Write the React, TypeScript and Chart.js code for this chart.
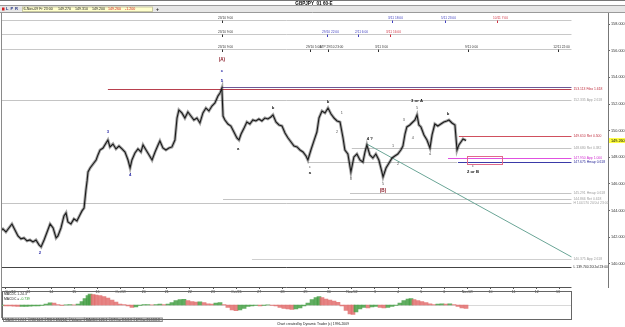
import React, { useEffect, useRef } from "react";
import { Chart, registerables } from "chart.js";

Chart.register(...registerables);

const FONT = "'Liberation Sans', 'DejaVu Sans', sans-serif";

const dayLabels = ["Oct/12","13","14","15","16","Oct/19","20","21","22","23","Oct/26","27","28","29","30","Nov/02","3","4","5","6","Nov/09","10","11","12","13"];
const yTicks = [140, 142, 144, 146, 148, 150, 152, 154, 156, 158];

// hourly GBPJPY path (trading days from Oct 12)
const priceTime = [-0.22,-0.09,0.04,0.17,0.30,0.43,0.56,0.69,0.82,0.95,1.08,1.21,1.34,1.47,1.56,1.69,1.82,1.95,2.08,2.21,2.29,2.42,2.55,2.64,2.72,2.85,2.98,3.11,3.24,3.33,3.42,3.50,3.55,3.59,3.68,3.81,3.94,4.02,4.11,4.24,4.37,4.45,4.54,4.67,4.80,4.93,5.06,5.19,5.32,5.41,5.49,5.62,5.75,5.88,5.97,6.10,6.23,6.36,6.49,6.62,6.70,6.83,6.96,7.09,7.22,7.35,7.44,7.52,7.65,7.78,7.91,8.04,8.17,8.30,8.43,8.56,8.69,8.82,8.95,9.08,9.21,9.30,9.38,9.43,9.51,9.64,9.77,9.90,10.03,10.12,10.21,10.34,10.46,10.59,10.72,10.85,10.98,11.11,11.24,11.37,11.50,11.59,11.72,11.85,11.98,12.11,12.24,12.37,12.50,12.63,12.76,12.89,13.02,13.10,13.23,13.36,13.49,13.58,13.71,13.84,13.97,14.10,14.23,14.36,14.49,14.62,14.70,14.83,14.96,15.09,15.22,15.35,15.48,15.57,15.65,15.78,15.91,16.04,16.17,16.30,16.35,16.48,16.61,16.74,16.86,16.99,17.12,17.21,17.30,17.38,17.51,17.64,17.73,17.82,17.90,17.99,18.12,18.25,18.38,18.47,18.59,18.72,18.85,18.98,19.11,19.20,19.33,19.46,19.55,19.63,19.72,19.81,19.94];
const priceClose = [142.48,142.63,142.40,142.70,143.00,142.55,142.10,141.88,141.95,141.73,141.80,141.65,141.80,141.43,141.28,141.80,142.40,143.00,142.70,141.95,142.10,142.70,143.60,143.83,143.15,143.00,143.38,143.23,143.68,143.98,144.20,145.55,146.23,146.90,147.20,147.50,147.80,148.18,148.55,148.70,149.08,149.30,148.78,149.00,148.63,148.85,148.63,148.40,147.80,147.20,147.80,148.33,148.63,148.40,148.93,148.55,148.18,147.80,148.40,148.93,149.23,148.70,148.55,148.70,148.78,149.30,150.95,151.55,151.33,150.95,151.40,151.10,150.80,150.95,150.58,151.33,151.70,151.48,151.85,152.08,152.60,152.83,153.20,151.10,150.80,150.50,150.35,149.90,149.45,149.30,149.75,150.20,150.65,150.50,150.80,150.73,150.88,150.73,150.95,150.88,151.03,151.18,150.65,150.43,150.35,149.83,149.45,149.15,148.85,148.78,148.55,148.40,148.10,147.80,148.55,149.23,149.90,150.95,151.48,151.33,151.70,151.25,150.95,150.73,150.65,149.45,148.55,148.25,146.90,148.03,148.25,147.80,147.65,148.40,148.93,148.18,147.95,148.25,147.80,146.90,146.53,147.20,147.58,147.95,148.10,148.25,148.55,148.85,149.75,150.28,150.43,150.65,150.80,151.18,150.43,150.28,149.68,149.30,148.70,149.68,150.50,150.35,150.50,150.65,150.73,150.80,150.58,150.43,148.55,148.93,149.15,149.38,149.26];

// MACD histogram
const macdTime = [-0.13,0.04,0.22,0.39,0.56,0.74,0.91,1.08,1.25,1.43,1.60,1.77,1.95,2.12,2.29,2.46,2.64,2.81,2.98,3.16,3.33,3.46,3.59,3.68,3.81,3.94,4.11,4.28,4.45,4.63,4.80,4.97,5.15,5.32,5.49,5.66,5.84,6.01,6.18,6.36,6.53,6.70,6.88,7.05,7.22,7.39,7.57,7.74,7.91,8.09,8.26,8.43,8.61,8.78,8.95,9.12,9.30,9.47,9.64,9.82,9.99,10.16,10.34,10.51,10.68,10.85,11.03,11.20,11.37,11.55,11.72,11.89,12.06,12.24,12.41,12.58,12.76,12.93,13.10,13.28,13.45,13.58,13.71,13.88,14.05,14.23,14.40,14.57,14.75,14.92,15.05,15.18,15.35,15.52,15.70,15.87,16.04,16.22,16.39,16.56,16.74,16.91,17.08,17.25,17.43,17.56,17.69,17.86,18.03,18.21,18.38,18.55,18.72,18.90,19.07,19.24,19.42,19.59,19.76,19.94];
const macdValue = [-0.05,-0.08,-0.10,-0.12,-0.15,-0.15,-0.13,-0.12,-0.10,-0.08,-0.03,0.10,0.22,0.20,0.05,-0.05,0.02,0.05,0.02,0.10,0.35,0.65,0.95,1.10,1.05,1.00,0.95,0.85,0.70,0.50,0.30,0.10,0.05,-0.10,-0.23,-0.20,-0.05,0.03,0.05,0.02,0.05,0.08,0.05,0.10,0.25,0.45,0.55,0.57,0.45,0.35,0.30,0.32,0.25,0.12,0.10,0.20,0.23,0.05,-0.25,-0.50,-0.57,-0.50,-0.35,-0.15,-0.08,-0.05,-0.10,-0.05,0.02,-0.05,-0.10,-0.25,-0.35,-0.40,-0.43,-0.40,-0.30,-0.10,0.20,0.55,0.75,0.83,0.75,0.60,0.50,0.40,0.27,-0.10,-0.55,-0.90,-0.93,-0.70,-0.40,-0.25,-0.30,-0.20,-0.15,-0.25,-0.30,-0.25,-0.15,-0.05,0.20,0.45,0.60,0.63,0.55,0.45,0.35,0.25,0.12,0.05,0.08,0.12,0.10,0.12,0.05,-0.15,-0.30,-0.33];

// horizontal price levels
const levelValue = [153.25, 153.09, 152.30, 149.60, 148.68, 147.65, 147.95, 147.675, 145.29, 144.866, 144.57, 140.375, 139.74];
const levelStart = [9.38, 4.45, -0.22, 19.63, 15.0, 13.1, 19.16, 19.59, 14.92, 9.43, -0.22, 10.68, -0.22];
const levelEnd = [24.5, 24.5, 24.5, 24.5, 24.5, 19.55, 24.5, 24.5, 24.5, 24.5, 24.5, 24.5, 24.5];
const levelText = ["", "153.113 Fibo 1.618", "152.335 App 2.618", "149.610 Ret 0.500", "148.680 Ret 0.382", "", "147.950 App 1.000", "147.675 Hmap 0.618", "145.291 Hmap 0.618", "144.866 Ret 0.618", "H 144.570 20/Jul 23:00", "140.375 App 2.618", "L 139.740 20/Jul 23:00"];
const levelColor = ["#6c5a96", "#b8404e", "#c4c4c4", "#d0505e", "#c4c4c4", "#c4c4c4", "#e050e0", "#3a3aa8", "#c4c4c4", "#c4c4c4", "#c4c4c4", "#cfcfcf", "#444444"];
const levelTextColor = ["", "#c03040", "#a0a0a0", "#c03040", "#a0a0a0", "", "#d030d0", "#2a2a9a", "#a0a0a0", "#a0a0a0", "#a0a0a0", "#a0a0a0", "#222222"];

// target zone and trend line
const zoneTime = [19.98, 21.49];
const zoneValue = [148.1, 147.5];
const trendTime = [15.65, 24.5];
const trendValue = [149.0, 140.53];

// wave labels
const waveText = ["2","3","4","(A)","c","5","a","b","c","a","b","1","2","3","4 ?","5","(B)","1","2","3","4","5","3 or A","a","b","c","2 or B"];
const waveTime = [1.51,4.45,5.41,9.38,9.38,9.38,10.08,11.59,13.19,13.19,13.97,14.57,14.36,14.96,15.78,16.35,16.35,16.78,17.0,17.25,17.64,17.82,17.82,18.38,19.16,20.24,20.24];
const waveValue = [140.8,149.92,146.68,155.3,154.48,153.73,148.63,151.7,147.28,146.83,152.15,151.33,149.9,146.38,149.38,146.0,145.48,148.85,147.5,150.8,149.45,151.7,152.23,148.25,151.25,147.35,146.9];
const waveStyle = ["blue","blue","blue","red","blue","blue","bold","bold","gray","bold","bold","gray","gray","gray","bold","gray","red","gray","gray","gray","gray","gray","bold","gray","bold","gray","bold"];

// time markers (rows at top)
const markerRowValue = [158.3, 157.25, 156.1];
const markerTime = [9.38,16.74,19.03,21.28,9.38,13.92,15.26,16.65,9.38,13.19,13.97,16.13,20.02,23.91];
const markerRow = [0,0,0,0,1,1,1,1,2,2,2,2,2,2];
const markerText = ["23/10 9:00","3/11 18:00","5/11 23:00","10/11 7:00","23/10 9:00","29/10 22:00","2/11 6:00","3/11 16:00","23/10 9:00","29/10 5:00","ATP 29/10 23:00","3/11 3:00","9/11 0:00","12/11 22:00"];
const markerStyle = ["dark","blue","blue","red","dark","blue","blue","red","dark","dark","dark","dark","dark","dark"];

const lastPrice = 149.26;
const quoteText = ["6-Nov-09 Fr 23:00", "149.270", "149.310", "149.200", "149.260", "-1.200"];
const macdText = ["MACDC 1.24.3", "MACDC = ", "-0.739"];
const tabText = ["MACDC 1.24.1", "RSI 14.3", "RSI 9 DMI(14)", "Volume", "MACDC 1.24.1", "DTOsc 8.5.3.3", "DTOsc 21.13.8.8"];

const X_MIN = -0.13;
const X_MAX = 26.08;
const LINE_END = 24.5;

export default function App() {
  const mainRef = useRef<HTMLCanvasElement>(null);
  const macdRef = useRef<HTMLCanvasElement>(null);

  useEffect(() => {
    document.body.style.margin = "0";
    const px = (v: number) => Math.round(v) + 0.5;

    const decor = {
      id: "decor",
      beforeDatasetsDraw(chart: any) {
        const { ctx, chartArea } = chart;
        const xs = chart.scales.x, ys = chart.scales.y;
        ctx.save();
        ctx.lineWidth = 1;
        markerRowValue.forEach((v) => {
          ctx.strokeStyle = "#c8c8c8";
          ctx.beginPath();
          ctx.moveTo(chartArea.left, px(ys.getPixelForValue(v)));
          ctx.lineTo(xs.getPixelForValue(LINE_END), px(ys.getPixelForValue(v)));
          ctx.stroke();
        });
        levelValue.forEach((v, i) => {
          ctx.strokeStyle = levelColor[i];
          const y = px(ys.getPixelForValue(v));
          ctx.beginPath();
          ctx.moveTo(Math.max(chartArea.left, xs.getPixelForValue(levelStart[i])), y);
          ctx.lineTo(xs.getPixelForValue(levelEnd[i]), y);
          ctx.stroke();
        });
        ctx.strokeStyle = "#6aa596";
        ctx.beginPath();
        ctx.moveTo(xs.getPixelForValue(trendTime[0]), ys.getPixelForValue(trendValue[0]));
        ctx.lineTo(xs.getPixelForValue(trendTime[1]), ys.getPixelForValue(trendValue[1]));
        ctx.stroke();
        ctx.strokeStyle = "#e06a8a";
        const zx0 = px(xs.getPixelForValue(zoneTime[0])), zx1 = px(xs.getPixelForValue(zoneTime[1]));
        const zy0 = px(ys.getPixelForValue(zoneValue[0])), zy1 = px(ys.getPixelForValue(zoneValue[1]));
        ctx.strokeRect(zx0, zy0, zx1 - zx0, zy1 - zy0);
        ctx.restore();
      },
      afterDraw(chart: any) {
        const { ctx, chartArea } = chart;
        const xs = chart.scales.x, ys = chart.scales.y;
        const W = chart.width;
        ctx.save();
        ctx.fillStyle = "#ffffff";
        ctx.fillRect(0, 0, W, chartArea.top);
        ctx.strokeStyle = "#777";
        ctx.lineWidth = 1;
        ctx.beginPath(); ctx.moveTo(0, 0.5); ctx.lineTo(W, 0.5); ctx.stroke();
        ctx.fillStyle = "#000";
        ctx.font = `bold 4.6px ${FONT}`;
        ctx.textAlign = "center"; ctx.textBaseline = "middle";
        ctx.fillText("GBPJPY_01 60-E", 314, 3.3);
        ctx.fillStyle = "#e6e6e6";
        ctx.fillRect(0, 6, W, 6.5);
        ctx.strokeStyle = "#9a9a9a";
        ctx.beginPath(); ctx.moveTo(0, 5.5); ctx.lineTo(W, 5.5); ctx.moveTo(0, 12.5); ctx.lineTo(W, 12.5); ctx.stroke();
        ctx.fillStyle = "#d02020"; ctx.fillRect(2, 7.5, 2.5, 3);
        ctx.font = `bold 4px ${FONT}`; ctx.textAlign = "left";
        ctx.fillStyle = "#203080";
        ctx.fillText("L", 6, 9.3); ctx.fillText("P", 10.5, 9.3); ctx.fillText("R", 15, 9.3);
        ctx.fillStyle = "#ffffcc"; ctx.fillRect(22, 7, 131, 4.5);
        ctx.strokeStyle = "#c8c8a0"; ctx.strokeRect(22.5, 7, 130, 4.5);
        ctx.font = `3.6px ${FONT}`;
        const qx = [23.5, 58, 75, 92, 108, 125];
        quoteText.forEach((t, i) => {
          ctx.fillStyle = i >= 4 ? "#d02020" : "#222";
          ctx.fillText(t, qx[i], 9.3);
        });
        ctx.fillStyle = "#222"; ctx.font = `bold 5px ${FONT}`;
        ctx.fillText("+", 156, 9.3);

        ctx.strokeStyle = "#8a8a8a";
        ctx.beginPath(); ctx.moveTo(1.5, chartArea.top); ctx.lineTo(1.5, 318); ctx.stroke();
        ctx.strokeStyle = "#555";
        ctx.beginPath();
        ctx.moveTo(chartArea.left, px(chartArea.bottom));
        ctx.lineTo(xs.getPixelForValue(LINE_END), px(chartArea.bottom));
        ctx.stroke();

        ctx.font = `3.4px ${FONT}`; ctx.textAlign = "left"; ctx.textBaseline = "middle";
        levelValue.forEach((v, i) => {
          if (!levelText[i]) return;
          ctx.fillStyle = levelTextColor[i];
          ctx.fillText(levelText[i], xs.getPixelForValue(LINE_END) + 2, ys.getPixelForValue(v));
        });

        ctx.textAlign = "center"; ctx.textBaseline = "alphabetic";
        markerTime.forEach((t, i) => {
          const x = px(xs.getPixelForValue(t));
          const y = px(ys.getPixelForValue(markerRowValue[markerRow[i]]));
          const col = markerStyle[i] === "blue" ? "#4040c0" : markerStyle[i] === "red" ? "#d03040" : "#333";
          ctx.strokeStyle = col; ctx.fillStyle = col;
          ctx.beginPath(); ctx.moveTo(x, y); ctx.lineTo(x, y + 2.5); ctx.stroke();
          ctx.font = `3.2px ${FONT}`;
          ctx.fillText(markerText[i], x + 3, y - 2);
        });

        ctx.textAlign = "center"; ctx.textBaseline = "middle";
        waveText.forEach((t, i) => {
          const st = waveStyle[i];
          let col = "#555", f = `3.8px ${FONT}`;
          if (st === "blue") { col = "#2c2ca8"; f = `bold 4.2px ${FONT}`; }
          else if (st === "red") { col = "#8a1c28"; f = `bold 4.6px ${FONT}`; }
          else if (st === "bold") { col = "#111"; f = `bold 4.2px ${FONT}`; }
          ctx.fillStyle = col; ctx.font = f;
          ctx.fillText(t, xs.getPixelForValue(waveTime[i]), ys.getPixelForValue(waveValue[i]));
        });

        const ly = ys.getPixelForValue(lastPrice);
        ctx.fillStyle = "#ffff40";
        ctx.fillRect(chartArea.right + 1, ly - 2.5, W - chartArea.right - 1, 5);
        ctx.fillStyle = "#000"; ctx.font = `3.8px ${FONT}`; ctx.textAlign = "left";
        ctx.fillText(lastPrice.toFixed(3), chartArea.right + 3, ly);

        let tx = 3;
        ctx.font = `3.2px ${FONT}`; ctx.textBaseline = "middle";
        tabText.forEach((t, i) => {
          const w = ctx.measureText(t).width + 4;
          ctx.fillStyle = i === 0 ? "#ffffff" : "#e4e4e4";
          ctx.fillRect(tx, 318, w, 3.5);
          ctx.strokeStyle = "#888";
          ctx.strokeRect(tx + 0.5, 318, w, 3.5);
          ctx.fillStyle = "#222";
          ctx.fillText(t, tx + 2, 319.9);
          tx += w;
        });
        ctx.textAlign = "center"; ctx.font = `3.4px ${FONT}`; ctx.fillStyle = "#222";
        ctx.fillText("Chart created by Dynamic Trader (c) 1996-2009", 313, 324.2);
        ctx.restore();
      },
    };

    const pts = priceTime.map((t, i) => ({ x: t, y: priceClose[i] }));
    const main = new Chart(mainRef.current as HTMLCanvasElement, {
      type: "line",
      data: {
        datasets: [
          { data: pts, borderColor: "rgba(40,40,40,0.4)", borderWidth: 3, pointRadius: 0, tension: 0 },
          { data: pts, borderColor: "#111", borderWidth: 1.1, pointRadius: 0, tension: 0 },
        ],
      },
      options: {
        responsive: false,
        animation: false,
        layout: { padding: { left: 2, right: 0, top: 13, bottom: 32 } },
        plugins: { legend: { display: false }, tooltip: { enabled: false } },
        scales: {
          x: {
            type: "linear",
            min: X_MIN,
            max: X_MAX,
            offset: false,
            afterBuildTicks: (s: any) => { s.ticks = dayLabels.map((_, i) => ({ value: i })); },
            afterFit: (s: any) => { s.height = 8; },
            ticks: {
              autoSkip: false, maxRotation: 0, align: "inner", padding: 1,
              font: { size: 3.6, family: FONT }, color: "#333",
              callback: (v: any) => dayLabels[Math.round(Number(v))] ?? "",
            },
            grid: { drawOnChartArea: false, tickLength: 2, color: "#555" },
            border: { display: false },
          },
          y: {
            position: "right",
            min: 138.27,
            max: 158.83,
            afterBuildTicks: (s: any) => { s.ticks = yTicks.map((v) => ({ value: v })); },
            afterFit: (s: any) => { s.width = 17; },
            ticks: { font: { size: 3.8, family: FONT }, color: "#333", padding: 1, callback: (v: any) => Number(v).toFixed(3) },
            grid: { drawOnChartArea: false, tickLength: 2, color: "#666" },
            border: { display: true, color: "#777" },
          },
        },
      },
      plugins: [decor],
    } as any);

    const macdDecor = {
      id: "macdDecor",
      beforeDatasetsDraw(chart: any) {
        const { ctx, chartArea } = chart;
        const xs = chart.scales.x, ys = chart.scales.y;
        ctx.save();
        const r = xs.getPixelForValue(24.48);
        ctx.strokeStyle = "#666"; ctx.lineWidth = 1;
        ctx.strokeRect(px(chartArea.left), px(chartArea.top - 1.5), Math.round(r - chartArea.left), Math.round(chartArea.bottom - chartArea.top + 3));
        ctx.strokeStyle = "#d8d8d8";
        const z = px(ys.getPixelForValue(0));
        ctx.beginPath(); ctx.moveTo(chartArea.left, z); ctx.lineTo(r, z); ctx.stroke();
        ctx.font = `3.4px ${FONT}`; ctx.textAlign = "left"; ctx.textBaseline = "middle";
        ctx.fillStyle = "#222";
        ctx.fillText(macdText[0], chartArea.left + 2, chartArea.top + 2);
        ctx.fillText(macdText[1], chartArea.left + 2, chartArea.top + 6.5);
        const w = ctx.measureText(macdText[1]).width;
        ctx.fillStyle = "#2a9a2a";
        ctx.fillText(macdText[2], chartArea.left + 2 + w, chartArea.top + 6.5);
        ctx.restore();
      },
    };

    const macd = new Chart(macdRef.current as HTMLCanvasElement, {
      type: "bar",
      data: {
        datasets: [
          {
            data: macdTime.map((t, i) => ({ x: t, y: macdValue[i] })),
            backgroundColor: macdValue.map((v, i) => (i > 0 && v < macdValue[i - 1] ? "rgba(226,110,110,0.85)" : "rgba(70,160,70,0.85)")),
            barThickness: 4,
          },
        ],
      },
      options: {
        responsive: false,
        animation: false,
        layout: { padding: { left: 2, right: 17, top: 2.5, bottom: 2.5 } },
        plugins: { legend: { display: false }, tooltip: { enabled: false } },
        scales: {
          x: { type: "linear", min: X_MIN, max: X_MAX, display: false, offset: false },
          y: { min: -1.25, max: 1.25, display: false },
        },
      },
      plugins: [macdDecor],
    } as any);

    return () => { main.destroy(); macd.destroy(); };
  }, []);

  return (
    <div style={{ position: "relative", width: 625, height: 327, overflow: "hidden", background: "#fff" }}>
      <canvas ref={mainRef} width={625} height={327} style={{ position: "absolute", left: 0, top: 0 }} />
      <canvas ref={macdRef} width={625} height={30} style={{ position: "absolute", left: 0, top: 290 }} />
    </div>
  );
}
